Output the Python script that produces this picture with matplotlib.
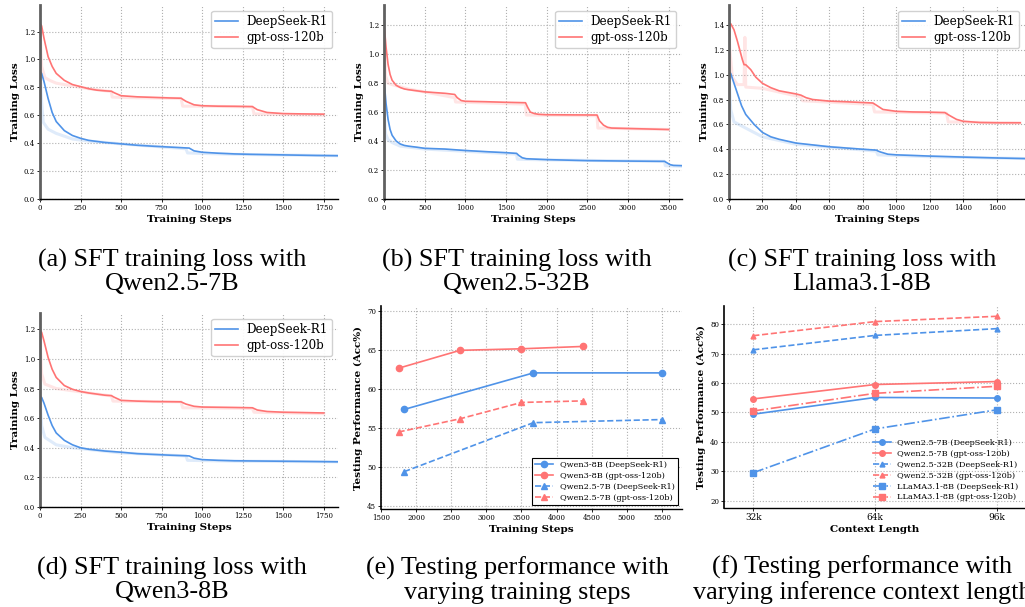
import matplotlib
matplotlib.use('Agg')
import matplotlib.pyplot as plt

plt.rcParams['font.family'] = 'DejaVu Serif'

BLUE = '#4f93e8'
RED = '#ff7474'

# ---- (a) Qwen2.5-7B ----
a_blue_steps = [0, 10, 25, 50, 75, 100, 150, 200, 250, 300, 400, 500, 600, 700, 800, 900, 920, 950,
                1000, 1100, 1200, 1300, 1400, 1500, 1600, 1700, 1840]
a_blue = [0.91, 0.90, 0.84, 0.72, 0.62, 0.555, 0.49, 0.455, 0.435, 0.42, 0.405, 0.395, 0.385, 0.378,
          0.372, 0.366, 0.365, 0.345, 0.335, 0.328, 0.323, 0.32, 0.318, 0.316, 0.314, 0.312, 0.31]
a_red_steps = [0, 10, 25, 50, 75, 100, 150, 200, 250, 300, 350, 400, 440, 460, 500, 600, 700, 800, 870,
               900, 950, 1000, 1100, 1200, 1310, 1340, 1400, 1500, 1600, 1750]
a_red = [1.26, 1.24, 1.15, 1.02, 0.95, 0.90, 0.85, 0.82, 0.805, 0.79, 0.78, 0.775, 0.772, 0.76, 0.74,
         0.732, 0.728, 0.724, 0.722, 0.70, 0.675, 0.668, 0.665, 0.664, 0.662, 0.64, 0.62, 0.612, 0.61, 0.608]
a_raw_blue_steps = [0, 10, 20, 50, 100, 200, 300, 500, 900, 910, 1200, 1840]
a_raw_blue = [0.9, 0.7, 0.55, 0.50, 0.47, 0.43, 0.415, 0.395, 0.36, 0.33, 0.32, 0.31]
a_raw_red_steps = [0, 10, 30, 60, 100, 200, 300, 440, 445, 600, 870, 880, 1000, 1310, 1320, 1500, 1750]
a_raw_red = [1.2, 0.95, 0.87, 0.85, 0.83, 0.81, 0.79, 0.77, 0.73, 0.725, 0.72, 0.665, 0.665, 0.66,
             0.61, 0.605, 0.60]

# ---- (b) Qwen2.5-32B ----
b_blue_steps = [0, 10, 25, 50, 75, 100, 150, 200, 250, 300, 400, 500, 750, 1000, 1250, 1500, 1630, 1660,
                1700, 1750, 2000, 2500, 3000, 3450, 3480, 3520, 3560, 3680]
b_blue = [0.79, 0.76, 0.66, 0.55, 0.48, 0.44, 0.40, 0.38, 0.37, 0.365, 0.358, 0.35, 0.345, 0.335, 0.327,
          0.32, 0.315, 0.30, 0.285, 0.278, 0.272, 0.265, 0.262, 0.26, 0.25, 0.237, 0.232, 0.23]
b_red_steps = [0, 10, 25, 50, 75, 100, 150, 200, 250, 300, 500, 750, 870, 900, 950, 1000, 1250, 1500, 1740,
               1770, 1800, 1850, 1900, 2000, 2300, 2620, 2650, 2700, 2750, 2800, 3000, 3500]
b_red = [1.21, 1.15, 1.05, 0.93, 0.86, 0.82, 0.785, 0.77, 0.76, 0.755, 0.74, 0.73, 0.722, 0.70, 0.68,
         0.675, 0.672, 0.668, 0.665, 0.63, 0.60, 0.59, 0.585, 0.582, 0.581, 0.58, 0.54, 0.51, 0.495, 0.49,
         0.487, 0.48]
b_raw_blue_steps = [0, 20, 50, 100, 200, 500, 1630, 1640, 2000, 3450, 3460, 3680]
b_raw_blue = [0.6, 0.45, 0.41, 0.39, 0.365, 0.345, 0.31, 0.275, 0.27, 0.26, 0.23, 0.225]
b_raw_red_steps = [0, 20, 50, 100, 300, 870, 880, 1740, 1750, 2620, 2630, 3500]
b_raw_red = [1.1, 0.85, 0.80, 0.79, 0.76, 0.70, 0.67, 0.655, 0.58, 0.575, 0.49, 0.48]

# ---- (c) Llama3.1-8B ----
c_blue_steps = [0, 10, 25, 50, 75, 100, 150, 200, 250, 300, 400, 500, 600, 700, 800, 880, 900, 950, 1000,
                1200, 1400, 1600, 1770]
c_blue = [1.02, 1.01, 0.95, 0.85, 0.75, 0.68, 0.60, 0.535, 0.50, 0.48, 0.45, 0.435, 0.42, 0.41, 0.40,
          0.393, 0.38, 0.36, 0.355, 0.345, 0.337, 0.33, 0.325]
c_red_steps = [0, 10, 30, 50, 80, 90, 100, 130, 160, 200, 250, 300, 400, 430, 460, 500, 600, 700, 860,
               880, 920, 1000, 1100, 1200, 1290, 1320, 1360, 1400, 1500, 1600, 1740]
c_red = [1.40, 1.41, 1.36, 1.27, 1.12, 1.08, 1.08, 1.04, 0.98, 0.93, 0.895, 0.87, 0.845, 0.835, 0.815,
         0.80, 0.787, 0.782, 0.772, 0.755, 0.72, 0.705, 0.70, 0.698, 0.695, 0.67, 0.64, 0.625, 0.615,
         0.613, 0.613]
c_raw_blue_steps = [0, 10, 30, 100, 200, 400, 880, 890, 1200, 1770]
c_raw_blue = [1.0, 0.72, 0.62, 0.57, 0.5, 0.44, 0.385, 0.355, 0.34, 0.325]
c_raw_red_steps = [0, 5, 20, 50, 90, 95, 100, 200, 430, 440, 860, 870, 1300, 1310, 1740]
c_raw_red = [1.4, 1.2, 0.98, 0.92, 0.92, 1.3, 0.9, 0.89, 0.82, 0.79, 0.76, 0.70, 0.69, 0.62, 0.61]

# ---- (d) Qwen3-8B ----
d_blue_steps = [0, 10, 25, 50, 75, 100, 150, 200, 250, 300, 400, 500, 600, 700, 800, 900, 920, 950, 1000,
                1100, 1200, 1400, 1600, 1840]
d_blue = [0.745, 0.74, 0.70, 0.62, 0.55, 0.50, 0.45, 0.42, 0.40, 0.39, 0.378, 0.37, 0.36, 0.355, 0.35,
          0.346, 0.345, 0.33, 0.32, 0.315, 0.312, 0.31, 0.308, 0.305]
d_red_steps = [0, 10, 25, 50, 75, 100, 150, 200, 250, 300, 400, 440, 460, 500, 600, 700, 870, 900, 950,
               1000, 1200, 1310, 1340, 1400, 1500, 1750]
d_red = [1.19, 1.18, 1.12, 1.01, 0.93, 0.875, 0.82, 0.795, 0.78, 0.77, 0.755, 0.752, 0.74, 0.72, 0.715,
         0.712, 0.71, 0.695, 0.68, 0.675, 0.672, 0.67, 0.655, 0.645, 0.64, 0.635]
d_raw_blue_steps = [0, 10, 30, 100, 200, 500, 900, 910, 1200, 1840]
d_raw_blue = [0.74, 0.55, 0.47, 0.42, 0.40, 0.365, 0.345, 0.315, 0.31, 0.305]
d_raw_red_steps = [0, 10, 30, 100, 300, 440, 450, 870, 880, 1310, 1320, 1750]
d_raw_red = [1.15, 0.9, 0.83, 0.80, 0.77, 0.75, 0.715, 0.71, 0.67, 0.665, 0.64, 0.63]

# ---- (e) performance vs training steps ----
e_steps_r1 = [1830, 3670, 5500]
e_steps_oss = [1750, 2625, 3500, 4375]
e_qwen3_r1 = [57.4, 62.1, 62.1]
e_qwen3_oss = [62.7, 65.0, 65.2, 65.5]
e_qwen25_r1 = [49.4, 55.7, 56.1]
e_qwen25_oss = [54.5, 56.2, 58.3, 58.5]

# ---- (f) performance vs context length ----
f_ctx = ['32k', '64k', '96k']
f_q7_r1 = [49.4, 55.1, 54.9]
f_q7_oss = [54.6, 59.5, 60.5]
f_q32_r1 = [71.3, 76.2, 78.5]
f_q32_oss = [76.1, 80.9, 82.7]
f_ll_r1 = [29.5, 44.4, 50.9]
f_ll_oss = [50.5, 56.5, 58.9]

captions = [
    '(a) SFT training loss with\nQwen2.5-7B',
    '(b) SFT training loss with\nQwen2.5-32B',
    '(c) SFT training loss with\nLlama3.1-8B',
    '(d) SFT training loss with\nQwen3-8B',
    '(e) Testing performance with\nvarying training steps',
    '(f) Testing performance with\nvarying inference context length',
]

W, H = 1025, 607
fig = plt.figure(figsize=(W / 100, H / 100), dpi=100)


def axes_px(left, top, right, bottom):
    return fig.add_axes([left / W, 1 - bottom / H, (right - left) / W, (bottom - top) / H])


def style(ax, left_thick=True):
    for s in ['top', 'right']:
        ax.spines[s].set_visible(False)
    if left_thick:
        ax.spines['left'].set_linewidth(2.0)
        ax.spines['left'].set_color('#606060')
    else:
        ax.spines['left'].set_linewidth(1.2)
        ax.spines['left'].set_color('black')
    ax.spines['bottom'].set_linewidth(1.0)
    ax.spines['bottom'].set_color('black')
    ax.grid(True, linestyle=':', color='#b0b0b0', linewidth=0.8)
    ax.set_axisbelow(True)
    ax.tick_params(labelsize=5, length=2, width=0.6, pad=1.5)


def loss_panel(box, raw_b, raw_r, sm_b, sm_r, xmax, xstep, xtop, ymax, ytop):
    ax = axes_px(*box)
    ax.plot(raw_b[0], raw_b[1], color=BLUE, alpha=0.18, linewidth=2.2)
    ax.plot(raw_r[0], raw_r[1], color=RED, alpha=0.18, linewidth=2.2)
    ax.plot(sm_b[0], sm_b[1], color=BLUE, linewidth=1.2, label='DeepSeek-R1')
    ax.plot(sm_r[0], sm_r[1], color=RED, linewidth=1.2, label='gpt-oss-120b')
    ax.set_xlim(0, xmax)
    ax.set_ylim(0, ymax)
    ax.set_xticks(list(range(0, xtop + 1, xstep)))
    ax.set_yticks([i * 0.2 for i in range(int(round(ytop / 0.2)) + 1)])
    ax.set_xlabel('Training Steps', fontsize=7.5, fontweight='bold', labelpad=2)
    ax.set_ylabel('Training Loss', fontsize=7.5, fontweight='bold', labelpad=3)
    style(ax)
    ax.legend(loc='upper right', fontsize=8.6, handlelength=1.9, borderpad=0.35,
              labelspacing=0.25, handletextpad=0.7, framealpha=0.9, edgecolor='#cccccc')
    return ax


loss_panel((40, 5, 338, 199), (a_raw_blue_steps, a_raw_blue), (a_raw_red_steps, a_raw_red),
           (a_blue_steps, a_blue), (a_red_steps, a_red), 1838, 250, 1750, 1.39, 1.2)
loss_panel((384, 5, 682, 199), (b_raw_blue_steps, b_raw_blue), (b_raw_red_steps, b_raw_red),
           (b_blue_steps, b_blue), (b_red_steps, b_red), 3665, 500, 3500, 1.34, 1.2)
loss_panel((729, 5, 1025, 199), (c_raw_blue_steps, c_raw_blue), (c_raw_red_steps, c_raw_red),
           (c_blue_steps, c_blue), (c_red_steps, c_red), 1769, 200, 1600, 1.56, 1.4)
loss_panel((40, 313, 338, 507), (d_raw_blue_steps, d_raw_blue), (d_raw_red_steps, d_raw_red),
           (d_blue_steps, d_blue), (d_red_steps, d_red), 1838, 250, 1750, 1.31, 1.2)

# (e)
ax = axes_px(381, 306, 682, 509)
ax.plot(e_steps_r1, e_qwen3_r1, color=BLUE, marker='o', markersize=4.5, linewidth=1.2,
        label='Qwen3-8B (DeepSeek-R1)')
ax.plot(e_steps_oss, e_qwen3_oss, color=RED, marker='o', markersize=4.5, linewidth=1.2,
        label='Qwen3-8B (gpt-oss-120b)')
ax.plot(e_steps_r1, e_qwen25_r1, color=BLUE, marker='^', markersize=4, linewidth=1.2,
        linestyle='--', label='Qwen2.5-7B (DeepSeek-R1)')
ax.plot(e_steps_oss, e_qwen25_oss, color=RED, marker='^', markersize=4, linewidth=1.2,
        linestyle='--', label='Qwen2.5-7B (gpt-oss-120b)')
ax.set_xlim(1500, 5785)
ax.set_ylim(44.6, 70.7)
ax.set_xticks(list(range(1500, 5501, 500)))
ax.set_yticks([45, 50, 55, 60, 65, 70])
ax.set_xlabel('Training Steps', fontsize=7.5, fontweight='bold', labelpad=2)
ax.set_ylabel('Testing Performance (Acc%)', fontsize=7.5, fontweight='bold', labelpad=3)
style(ax, left_thick=False)
leg = ax.legend(loc='lower right', fontsize=5.9, fancybox=False, edgecolor='black',
                framealpha=1.0, handlelength=2.2, labelspacing=0.35, borderpad=0.4)
leg.get_frame().set_linewidth(0.8)

# (f)
ax = axes_px(724, 306, 1025, 508)
xs = list(range(len(f_ctx)))
ax.plot(xs, f_q7_r1, color=BLUE, marker='o', markersize=4, linewidth=1.2,
        label='Qwen2.5-7B (DeepSeek-R1)')
ax.plot(xs, f_q7_oss, color=RED, marker='o', markersize=4, linewidth=1.2,
        label='Qwen2.5-7B (gpt-oss-120b)')
ax.plot(xs, f_q32_r1, color=BLUE, marker='^', markersize=3.5, linewidth=1.2, linestyle='--',
        label='Qwen2.5-32B (DeepSeek-R1)')
ax.plot(xs, f_q32_oss, color=RED, marker='^', markersize=3.5, linewidth=1.2, linestyle='--',
        label='Qwen2.5-32B (gpt-oss-120b)')
ax.plot(xs, f_ll_r1, color=BLUE, marker='s', markersize=4, linewidth=1.2, linestyle='-.',
        label='LLaMA3.1-8B (DeepSeek-R1)')
ax.plot(xs, f_ll_oss, color=RED, marker='s', markersize=4, linewidth=1.2, linestyle='-.',
        label='LLaMA3.1-8B (gpt-oss-120b)')
ax.set_xlim(-0.24, 2.23)
ax.set_ylim(17.5, 86.2)
ax.set_xticks(xs)
ax.set_xticklabels(f_ctx)
ax.set_yticks([20, 30, 40, 50, 60, 70, 80])
ax.set_xlabel('Context Length', fontsize=7.5, fontweight='bold', labelpad=2)
ax.set_ylabel('Testing Performance (Acc%)', fontsize=7.5, fontweight='bold', labelpad=3)
style(ax, left_thick=False)
ax.tick_params(axis='x', labelsize=6.5)
ax.legend(loc='lower right', fontsize=5.9, frameon=False, handlelength=2.2,
          labelspacing=0.35, borderpad=0.3)

# captions (the last one runs past the right edge, as in the source figure)
cap_pos = [(172, 272), (517, 272), (862, 272), (172, 580), (517, 580), (862, 580)]
for (cx, cy), text in zip(cap_pos, captions):
    fig.text(cx / W, 1 - cy / H, text, ha='center', va='center', fontsize=18.8,
             family='Liberation Serif', linespacing=1.1)

fig.savefig('out.png', dpi=100)
